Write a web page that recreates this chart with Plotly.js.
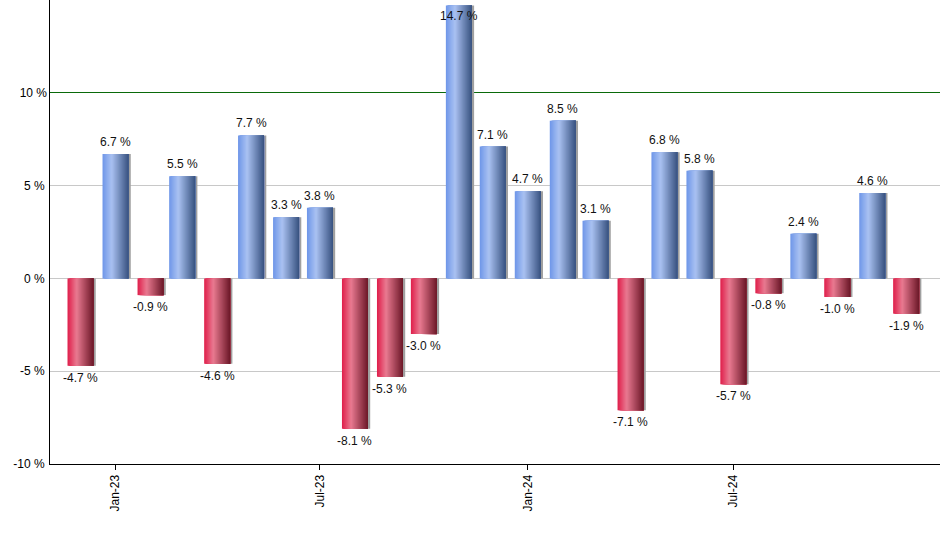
<!DOCTYPE html>
<html>
<head>
<meta charset="utf-8">
<script src="https://cdn.plot.ly/plotly-3.0.1.min.js"></script>
<style>
  body { margin: 0; background: #fff; }
  #chart { width: 940px; height: 550px; }
</style>
</head>
<body>
<div id="chart"></div>
<script>
// monthly returns, Dec-22 .. Dec-24
var months = ['2022-12-01', '2023-01-01', '2023-02-01', '2023-03-01', '2023-04-01', '2023-05-01',
    '2023-06-01', '2023-07-01', '2023-08-01', '2023-09-01', '2023-10-01', '2023-11-01',
    '2023-12-01', '2024-01-01', '2024-02-01', '2024-03-01', '2024-04-01', '2024-05-01',
    '2024-06-01', '2024-07-01', '2024-08-01', '2024-09-01', '2024-10-01', '2024-11-01',
    '2024-12-01'];
var returns = [-4.7, 6.7, -0.9, 5.5, -4.6, 7.7, 3.3, 3.8, -8.1, -5.3, -3.0, 14.7,
    7.1, 4.7, 8.5, 3.1, -7.1, 6.8, 5.8, -5.7, -0.8, 2.4, -1.0, 4.6, -1.9];
var gridTicks = [-10, -5, 0, 5, 15];
var markTicks = [10]; // drawn in green

var DAY = 86400000;
var barW = 23 * DAY;
var strips = 26;

// gradient stops: [pos, r, g, b]
var blueStops = [[0, 110, 150, 232], [0.35, 170, 194, 242], [1, 56, 82, 128]];
var redStops = [[0, 224, 30, 74], [0.35, 233, 122, 145], [1, 108, 24, 40]];

function gradColor(stops, t) {
    for (var k = 1; k < stops.length; k++) {
        if (t <= stops[k][0]) {
            var a = stops[k - 1], b = stops[k];
            var f = (t - a[0]) / (b[0] - a[0]);
            var c = [1, 2, 3].map(function (j) { return Math.round(a[j] + (b[j] - a[j]) * f); });
            return 'rgb(' + c.join(',') + ')';
        }
    }
    var l = stops[stops.length - 1];
    return 'rgb(' + l[1] + ',' + l[2] + ',' + l[3] + ')';
}

var traces = [];

// shadow behind each bar
traces.push({
    x: months,
    y: returns,
    type: 'bar',
    width: barW,
    offset: -barW / 2 + 2 * DAY,
    marker: { color: '#a0a0a0', line: { width: 0 } },
    hoverinfo: 'skip',
    showlegend: false
});

// gradient strips, left to right, each one covering to the right edge
for (var i = 0; i < strips; i++) {
    var t = (i + 0.5) / strips;
    var colors = returns.map(function (v) {
        return v >= 0 ? gradColor(blueStops, t) : gradColor(redStops, t);
    });
    traces.push({
        x: months,
        y: returns,
        type: 'bar',
        width: barW - i * barW / strips,
        offset: -barW / 2 + i * barW / strips,
        marker: { color: colors, line: { width: 0 } },
        hoverinfo: 'skip',
        showlegend: false
    });
}

// empty trace so the green 10 % axis gets drawn
traces.push({ x: [], y: [], type: 'scatter', mode: 'lines', yaxis: 'y2', hoverinfo: 'skip', showlegend: false });

// value labels
var labels = months.map(function (m, k) {
    var v = returns[k];
    var up = v >= 0 && v < 14;
    return {
        x: m,
        y: v,
        xref: 'x',
        yref: 'y',
        text: v.toFixed(1) + ' %',
        showarrow: false,
        yanchor: up ? 'bottom' : 'top',
        yshift: up ? 3 : (v >= 0 ? -1 : -3),
        font: { family: 'Liberation Sans, Arial, sans-serif', size: 12, color: '#111' }
    };
});

var layout = {
    width: 940,
    height: 550,
    margin: { l: 50, r: 0, t: 0, b: 86 },
    paper_bgcolor: '#fff',
    plot_bgcolor: '#fff',
    barmode: 'overlay',
    font: { family: 'Liberation Sans, Arial, sans-serif', size: 12, color: '#000' },
    xaxis: {
        type: 'date',
        range: ['2022-11-04', '2024-12-31'],
        tick0: '2023-01-01',
        dtick: 'M6',
        tickformat: '%b-%y',
        tickangle: -90,
        ticks: 'outside',
        ticklen: 5,
        tickcolor: '#000',
        showgrid: false,
        showline: true,
        linecolor: '#000',
        linewidth: 1,
        zeroline: false
    },
    yaxis: {
        range: [-10, 15],
        tickvals: gridTicks,
        ticktext: gridTicks.map(function (v) { return v === 15 ? '' : v + ' %'; }),
        showgrid: true,
        gridcolor: '#c8c8c8',
        zeroline: true,
        zerolinecolor: '#c8c8c8',
        showline: true,
        linecolor: '#000',
        linewidth: 1,
        ticks: '',
        ticklabelstandoff: 2
    },
    yaxis2: {
        overlaying: 'y',
        side: 'left',
        range: [-10, 15],
        tickvals: markTicks,
        ticktext: markTicks.map(function (v) { return v + ' %'; }),
        showgrid: true,
        gridcolor: '#0a6a0a',
        zeroline: false,
        showline: false,
        ticks: '',
        ticklabelstandoff: 2
    },
    annotations: labels
};

Plotly.newPlot('chart', traces, layout, { displayModeBar: false, staticPlot: true });
</script>
</body>
</html>
